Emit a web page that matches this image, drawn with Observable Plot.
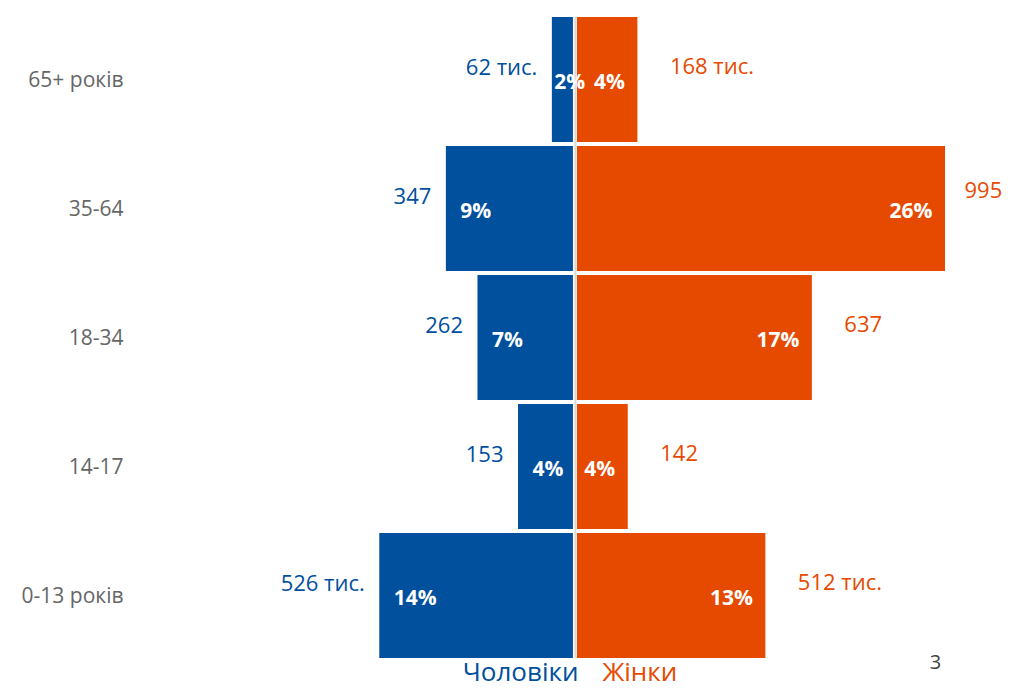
<!DOCTYPE html>
<html>
<head>
<meta charset="utf-8">
<script src="https://cdn.jsdelivr.net/npm/d3@7"></script>
<script src="https://cdn.jsdelivr.net/npm/@observablehq/plot@0.6"></script>
<style>
  html, body { margin: 0; padding: 0; background: #fff; }
  #chart svg { display: block; }
</style>
</head>
<body>
<div id="chart"></div>
<script>
const categories = ["65+ років", "35-64", "18-34", "14-17", "0-13 років"];
const male = [62, 347, 262, 153, 526];
const female = [168, 995, 637, 142, 512];
const maleLabels = ["62 тис.", "347", "262", "153", "526 тис."];
const femaleLabels = ["168 тис.", "995", "637", "142", "512 тис."];
const malePct = ["2%", "9%", "7%", "4%", "14%"];
const femalePct = ["4%", "26%", "17%", "4%", "13%"];
const sexLabels = ["Чоловіки", "Жінки"];
const pageNumber = ["3"];

const BLUE = "#00509E";
const ORANGE = "#E64A00";
const FONT = "Open Sans";

const rows = categories.map((c, i) => ({
  cat: c, male: male[i], female: female[i],
  maleLabel: maleLabels[i], femaleLabel: femaleLabels[i],
  malePct: malePct[i], femalePct: femalePct[i]
}));

const chart = Plot.plot({
  width: 1009,
  height: 689,
  marginLeft: 123,
  marginRight: 0,
  marginTop: 15,
  marginBottom: 29,
  style: { fontFamily: FONT, background: "#fff" },
  x: { domain: [-1215, 1167], axis: null },
  y: { domain: categories, padding: 0, label: null },
  marks: [
    Plot.axisY({ tickSize: 0, tickPadding: 0, fontSize: 21, color: "#666666", label: null, fontFamily: FONT }),
    Plot.barX(rows, { y: "cat", x1: 0, x2: d => -d.male, fill: BLUE, insetTop: 2, insetBottom: 2, insetRight: 2 }),
    Plot.barX(rows, { y: "cat", x1: 0, x2: "female", fill: ORANGE, insetTop: 2, insetBottom: 2, insetLeft: 2 }),
    Plot.ruleX([0], { stroke: "#d9d9d9", strokeWidth: 2, insetTop: 2, insetBottom: 2 }),
    // value labels
    Plot.text(rows, { y: "cat", x: d => -d.male, text: "maleLabel", textAnchor: "end", dx: -15, dy: -12, fill: BLUE, fontSize: 22, fontFamily: FONT }),
    Plot.text(rows.filter(d => d.female < 900), { y: "cat", x: "female", text: "femaleLabel", textAnchor: "start", dx: 32, dy: -13, fill: ORANGE, fontSize: 22, fontFamily: FONT }),
    Plot.text(rows.filter(d => d.female >= 900), { y: "cat", x: "female", text: "femaleLabel", textAnchor: "start", dx: 19, dy: -18, fill: ORANGE, fontSize: 22, fontFamily: FONT }),
    // percent labels
    Plot.text(rows.filter(d => d.male >= 100), { y: "cat", x: d => -d.male, text: "malePct", textAnchor: "start", dx: 14, dy: 2, fill: "white", fontWeight: "bold", fontSize: 21, fontFamily: FONT }),
    Plot.text(rows.filter(d => d.male < 100), { y: "cat", x: d => -d.male, text: "malePct", textAnchor: "start", dx: 2, dy: 2, fill: "white", fontWeight: "bold", fontSize: 21, fontFamily: FONT }),
    Plot.text(rows, { y: "cat", x: "female", text: "femalePct", textAnchor: "end", dx: -13, dy: 2, fill: "white", fontWeight: "bold", fontSize: 21, fontFamily: FONT }),
    // sex labels under the bars
    Plot.text([sexLabels[0]], { x: 0, frameAnchor: "bottom", text: d => d, textAnchor: "end", lineAnchor: "middle", dx: 3, dy: 12, fill: BLUE, fontSize: 26, fontFamily: FONT }),
    Plot.text([sexLabels[1]], { x: 0, frameAnchor: "bottom", text: d => d, textAnchor: "start", lineAnchor: "middle", dx: 27, dy: 12, fill: ORANGE, fontSize: 26, fontFamily: FONT }),
    // page number
    Plot.text(pageNumber, { frameAnchor: "bottom-right", text: d => d, textAnchor: "middle", lineAnchor: "middle", dx: -74, dy: 2, fill: "#404040", fontSize: 20, fontFamily: FONT })
  ]
});
document.getElementById("chart").appendChild(chart);
</script>
</body>
</html>
